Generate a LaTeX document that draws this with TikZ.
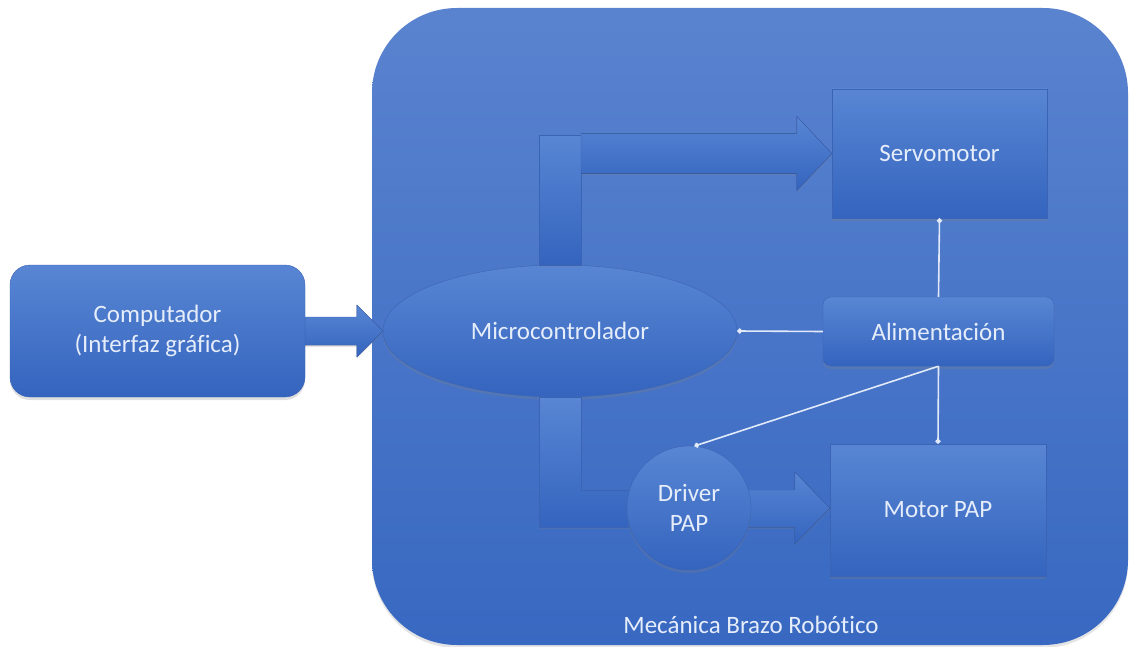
\documentclass[tikz,border=0pt]{standalone}
\usepackage{fontspec}
\setmainfont{Carlito}[Ligatures=NoCommon]
\usetikzlibrary{arrows.meta,shapes.geometric,calc,shadows}
\definecolor{txt}{RGB}{230,237,250}
\definecolor{linec}{RGB}{226,234,250}
\definecolor{bgtop}{RGB}{90,131,207}
\definecolor{bgbot}{RGB}{56,104,193}
\definecolor{eltop}{RGB}{88,134,212}
\definecolor{elbot}{RGB}{52,100,190}
\definecolor{edge}{RGB}{60,100,180}
\tikzset{
  lbltext/.style={text=txt,font=\fontsize{25}{30}\selectfont},
  elem/.style={top color=eltop,bottom color=elbot,draw=edge,line width=0.4pt,
    drop shadow={opacity=0.25,shadow xshift=0pt,shadow yshift=-3pt},
    lbltext,align=center,inner sep=0pt},
  blockarrow/.style={top color=eltop,bottom color=elbot,draw=edge,line width=0.4pt,
    drop shadow={opacity=0.2,shadow xshift=0pt,shadow yshift=-2pt}},
  wire/.style={draw=linec,line width=1.6pt,-{Circle[length=5pt,width=5pt]}},
}
\begin{document}
\begin{tikzpicture}[x=1pt,y=-1pt]
\useasboundingbox[fill=white] (0,0) rectangle (1130,647);
% big container
\node[draw=none,top color=bgtop,bottom color=bgbot,rounded corners=85pt,
  minimum width=756pt,minimum height=637pt,inner sep=0pt,
  drop shadow={opacity=0.2,shadow xshift=0pt,shadow yshift=-3pt}] (main) at (750,326.5) {};
\node[lbltext] (lbl) at (751,625) {Mecánica Brazo Robótico};
% computer
\node[elem,rectangle,rounded corners=20pt,minimum width=295pt,minimum height=132pt] (comp) at (157.5,331) {Computador\\(Interfaz gráfica)};
% right column
\node[elem,rectangle,minimum width=215pt,minimum height=129pt] (servo) at (939.5,153.5) {Servomotor};
\node[elem,rectangle,rounded corners=8pt,minimum width=231pt,minimum height=69pt] (alim) at (938.5,331.5) {Alimentación};
\node[elem,rectangle,minimum width=216pt,minimum height=132pt] (motor) at (938,510) {Motor PAP};
% microcontroller
\node[elem,ellipse,minimum width=354pt,minimum height=132pt] (micro) at (560,331) {Microcontrolador};
% computer -> micro
\fill[blockarrow] ($(comp.east)+(0,-14)$) -- ($(micro.west)+(-26,-14)$) -- ($(micro.west)+(-26,-26)$)
  -- (micro.west) -- ($(micro.west)+(-26,26)$) -- ($(micro.west)+(-26,14)$) -- ($(comp.east)+(0,14)$) -- cycle;
% upper connector: bar + arrow to servo
\coordinate (us) at ($(micro.north |- servo.west)+(21,0)$);
\fill[blockarrow] ($(micro.north)+(-21,0)$) rectangle ($(micro.north |- servo.west)+(21,-18)$);
\fill[blockarrow] ($(us)+(0,-20)$) -- ($(servo.west)+(-35,-20)$) -- ($(servo.west)+(-35,-37)$)
  -- (servo.west) -- ($(servo.west)+(-35,37)$) -- ($(servo.west)+(-35,20)$) -- ($(us)+(0,20)$) -- cycle;
% lower connector: L to driver, arrow to motor
\coordinate (dc) at (689,508);
\coordinate (lc) at (micro.south |- dc);
\coordinate (mt) at (motor.west |- dc);
\fill[blockarrow] ($(micro.south)+(-21,0)$) -- ($(micro.south)+(21,0)$) -- ($(lc)+(21,-18)$)
  -- ($(dc)+(0,-18)$) -- ($(dc)+(0,19)$) -- ($(lc)+(-21,19)$) -- cycle;
\fill[blockarrow] ($(dc)+(0,-18)$) -- ($(mt)+(-35,-18)$) -- ($(mt)+(-35,-36)$) -- (mt)
  -- ($(mt)+(-35,36)$) -- ($(mt)+(-35,19)$) -- ($(dc)+(0,19)$) -- cycle;
\node[elem,circle,minimum size=124pt] (driver) at (dc) {Driver\\PAP};
% power wires
\draw[wire] (alim.north) -- (servo.south);
\draw[wire] (alim.west) -- (micro.east);
\draw[wire] (alim.south) -- (motor.north);
\draw[wire] (alim.south) -- (driver.85);
\end{tikzpicture}
\end{document}
